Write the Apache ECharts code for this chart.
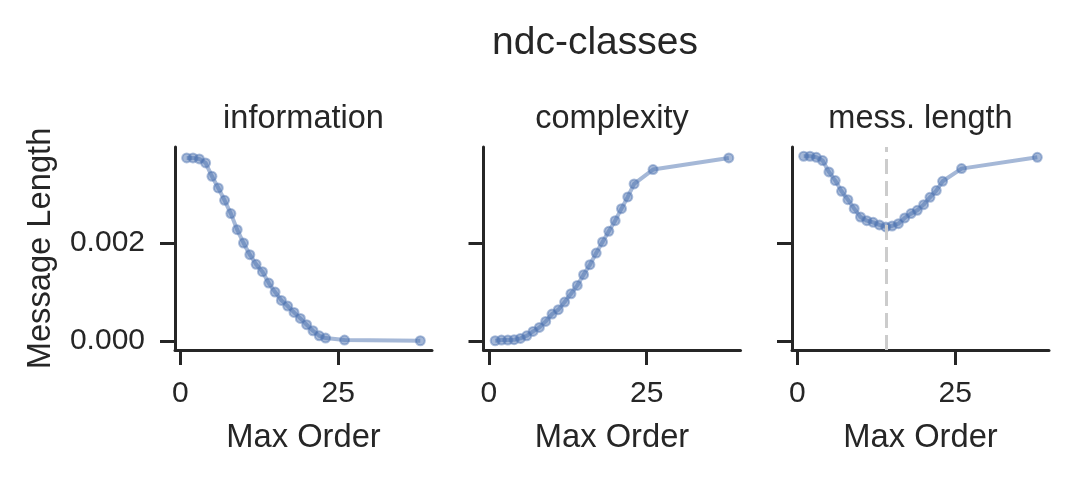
<!DOCTYPE html>
<html>
<head>
<meta charset="utf-8">
<script src="https://cdn.jsdelivr.net/npm/echarts@6/dist/echarts.min.js"></script>
<style>
  html, body { margin: 0; padding: 0; background: #fff; }
  #main { width: 1072px; height: 478px; }
</style>
</head>
<body>
<div id="main"></div>
<script>
// data
var maxOrder = [1, 2, 3, 4, 5, 6, 7, 8, 9, 10, 11, 12, 13, 14, 15, 16, 17, 18, 19, 20, 21, 22, 23, 26, 38];
var information = [0.003741, 0.003741, 0.003720, 0.003638, 0.003365, 0.003126, 0.002874, 0.002601,
  0.002273, 0.002000, 0.001761, 0.001563, 0.001413, 0.001181, 0.000997, 0.000826, 0.000710,
  0.000580, 0.000457, 0.000328, 0.000205, 0.000102, 0.000055, 0.000014, 0.0];
var complexity = [0.0, 0.000014, 0.000014, 0.000021, 0.000048, 0.000102, 0.000191, 0.000273,
  0.000396, 0.000546, 0.000635, 0.000792, 0.000962, 0.001133, 0.001352, 0.001556, 0.001795,
  0.002021, 0.002239, 0.002457, 0.002703, 0.002942, 0.003208, 0.003502, 0.003741];
var messLength = [0.003775, 0.003775, 0.003754, 0.003686, 0.003454, 0.003277, 0.003058, 0.002887,
  0.002703, 0.002532, 0.002457, 0.002423, 0.002369, 0.002328, 0.002348, 0.002396, 0.002512,
  0.002601, 0.002669, 0.002785, 0.002935, 0.003072, 0.003263, 0.003522, 0.003754];
var panelTitles = ['information', 'complexity', 'mess. length'];
var xTicks = [0, 25];
var yTicks = [0, 0.002];
var bestOrder = 14;

var myChart = echarts.init(document.getElementById('main'));
var font = "'Liberation Sans', Arial, sans-serif";
var ink = '#262626';
var blue = 'rgba(76,114,176,0.5)';

var panelLeft = [175, 483.5, 792];
var panelWidth = 257;
var panelTop = 147;
var panelHeight = 203;

function pairs(ys) {
  return maxOrder.map(function (x, i) { return [x, ys[i]]; });
}

var seriesData = [information, complexity, messLength];

var grids = [], xAxes = [], yAxes = [], series = [];
var titles = [{
  text: 'ndc-classes',
  left: 595,
  top: 24,
  textAlign: 'center',
  padding: 0,
  textStyle: { fontFamily: font, fontSize: 39, fontWeight: 'normal', color: ink, lineHeight: 39 }
}];

for (var i = 0; i < 3; i++) {
  grids.push({
    left: panelLeft[i], top: panelTop, width: panelWidth, height: panelHeight,
    containLabel: false, outerBoundsMode: 'none'
  });
  titles.push({
    text: panelTitles[i],
    left: panelLeft[i] + panelWidth / 2,
    top: 103,
    textAlign: 'center',
    padding: 0,
    textStyle: { fontFamily: font, fontSize: 32.5, fontWeight: 'normal', color: ink, lineHeight: 33 }
  });
  xAxes.push({
    type: 'value', gridIndex: i, min: -0.85, max: 39.85,
    name: 'Max Order', nameLocation: 'middle', nameGap: 71,
    nameTextStyle: { fontFamily: font, fontSize: 32.7, color: ink },
    axisLine: { show: true, onZero: false, lineStyle: { color: ink, width: 3 } },
    axisTick: { show: true, length: 15, customValues: xTicks, lineStyle: { color: ink, width: 3 } },
    axisLabel: { customValues: xTicks, margin: 29, fontFamily: font, fontSize: 30, color: ink },
    splitLine: { show: false }
  });
  yAxes.push({
    type: 'value', gridIndex: i, min: -0.000189, max: 0.003964,
    name: i === 0 ? 'Message Length' : '', nameLocation: 'middle', nameGap: 118,
    nameTextStyle: { fontFamily: font, fontSize: 32.7, color: ink },
    axisLine: { show: true, onZero: false, lineStyle: { color: ink, width: 3 } },
    axisTick: { show: true, length: 15, customValues: yTicks, lineStyle: { color: ink, width: 3 } },
    axisLabel: {
      show: i === 0, customValues: yTicks, margin: 30, fontFamily: font, fontSize: 30, color: ink,
      formatter: function (v) { return v.toFixed(3); }
    },
    splitLine: { show: false }
  });
  var s = {
    type: 'line', xAxisIndex: i, yAxisIndex: i,
    data: pairs(seriesData[i]),
    symbol: 'circle', symbolSize: 9,
    lineStyle: { color: blue, width: 4 },
    itemStyle: { color: 'rgba(76,114,176,0.5)', borderColor: 'rgba(76,114,176,0.45)', borderWidth: 2 },
    emphasis: { disabled: true },
    animation: false
  };
  if (i === 2) {
    s.markLine = {
      silent: true, symbol: 'none', label: { show: false },
      lineStyle: { color: '#cccccc', width: 3, type: [15, 7] },
      data: [{ xAxis: bestOrder }]
    };
  }
  series.push(s);
}

var option = {
  backgroundColor: '#fff',
  animation: false,
  title: titles,
  grid: grids,
  xAxis: xAxes,
  yAxis: yAxes,
  series: series
};
myChart.setOption(option);
</script>
</body>
</html>
